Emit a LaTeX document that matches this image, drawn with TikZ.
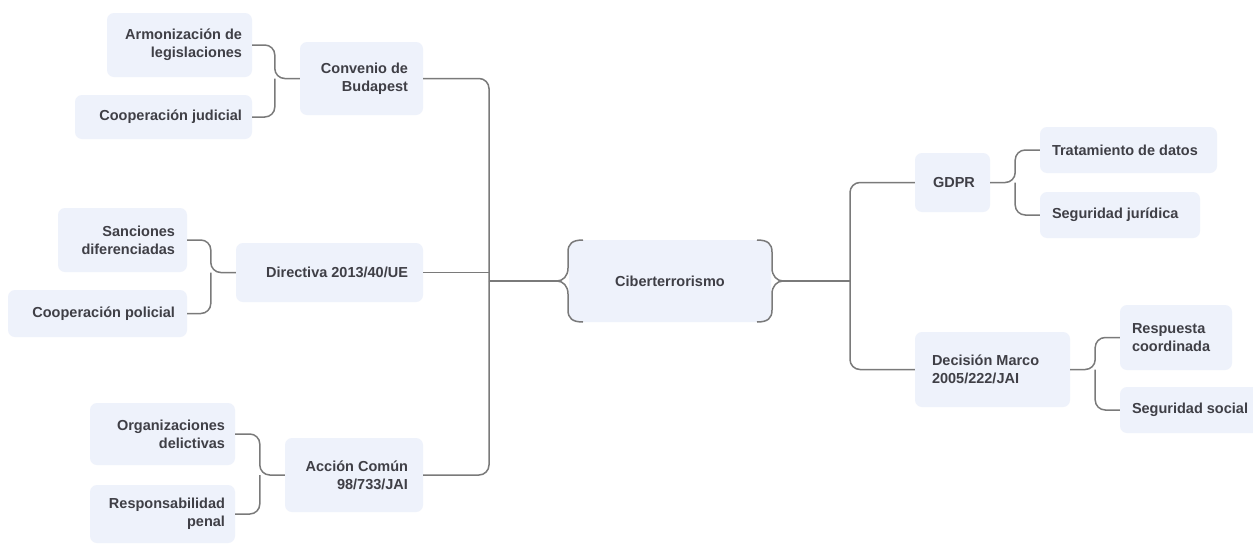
\documentclass[tikz,border=0pt]{standalone}
\usepackage{fontspec}
\setmainfont{Liberation Sans}
\definecolor{boxfill}{HTML}{EEF2FB}
\definecolor{linec}{HTML}{7A7A7A}
\definecolor{txt}{HTML}{3F3F46}
\tikzset{
  box/.style={rectangle, rounded corners=7pt, fill=boxfill, draw=none, inner sep=0pt},
  lbl/.style={inner sep=0pt, text=txt, font=\bfseries\fontsize{14.5}{18}\selectfont},
  conn/.style={draw=linec, line width=1.5pt, rounded corners=10pt},
  brace/.style={draw=linec, line width=1.5pt},
}
\begin{document}
\begin{tikzpicture}[x=1pt, y=-1pt]
\fill[white] (0,0) rectangle (1253,544);
\useasboundingbox (0,0) rectangle (1253,544);

% ---- central topic ----
\node[box, minimum width=202pt, minimum height=82pt] (cib) at (670,281) {};
\node[lbl] (cibT) at (cib.center) {Ciberterrorismo};
\coordinate (cibL) at (557,281);
\coordinate (cibR) at (783,281);
\draw[brace] (583,240) .. controls (572,240) and (568,244) .. (568,252) -- (568,268)
  .. controls (568,276) and (563,281) .. (cibL)
  .. controls (563,281) and (568,286) .. (568,294) -- (568,310)
  .. controls (568,318) and (572,322) .. (583,322);
\draw[brace] (757,240) .. controls (768,240) and (772,244) .. (772,252) -- (772,268)
  .. controls (772,276) and (777,281) .. (cibR)
  .. controls (777,281) and (772,286) .. (772,294) -- (772,310)
  .. controls (772,318) and (768,322) .. (757,322);

% ---- left branch: main topics ----
\node[box, minimum width=123pt, minimum height=73pt] (conv) at (361.5,78.5) {};
\node[lbl, align=right, anchor=east] (convT) at ([xshift=-15pt]conv.east) {Convenio de\\Budapest};
\node[box, minimum width=187pt, minimum height=59pt] (dir) at (329.5,272.5) {};
\node[lbl, anchor=east] (dirT) at ([xshift=-15pt]dir.east) {Directiva 2013/40/UE};
\node[box, minimum width=138pt, minimum height=74pt] (acc) at (354,475) {};
\node[lbl, align=right, anchor=east] (accT) at ([xshift=-15pt]acc.east) {Acción Común\\98/733/JAI};

% ---- left branch: subtopics ----
\node[box, minimum width=145pt, minimum height=64pt] (arm) at (179.5,45) {};
\node[lbl, align=right, anchor=east] (armT) at ([xshift=-10pt]arm.east) {Armonización de\\legislaciones};
\node[box, minimum width=177pt, minimum height=44pt] (coopj) at (163.5,117) {};
\node[lbl, anchor=east] (coopjT) at ([xshift=-10pt]coopj.east) {Cooperación judicial};

\node[box, minimum width=129pt, minimum height=64pt] (sanc) at (122.5,240) {};
\node[lbl, align=right, anchor=east] (sancT) at ([xshift=-12pt]sanc.east) {Sanciones\\diferenciadas};
\node[box, minimum width=179pt, minimum height=47pt] (coopp) at (97.5,313.5) {};
\node[lbl, anchor=east] (coopT) at ([xshift=-12pt]coopp.east) {Cooperación policial};

\node[box, minimum width=145pt, minimum height=62pt] (org) at (162.5,434) {};
\node[lbl, align=right, anchor=east] (orgT) at ([xshift=-10pt]org.east) {Organizaciones\\delictivas};
\node[box, minimum width=145pt, minimum height=58pt] (resp) at (162.5,514) {};
\node[lbl, align=right, anchor=east] (respT) at ([xshift=-10pt]resp.east) {Responsabilidad\\penal};

% ---- right branch: main topics ----
\node[box, minimum width=75pt, minimum height=59pt] (gdpr) at (952.5,182.5) {};
\node[lbl, anchor=west] (gdprT) at ([xshift=18pt]gdpr.west) {GDPR};
\node[box, minimum width=155pt, minimum height=75pt] (dec) at (992.5,369.5) {};
\node[lbl, align=left, anchor=west] (decT) at ([xshift=17pt]dec.west) {Decisión Marco\\2005/222/JAI};

% ---- right branch: subtopics ----
\node[box, minimum width=177pt, minimum height=46pt] (trat) at (1128.5,150) {};
\node[lbl, anchor=west] (tratT) at ([xshift=12pt]trat.west) {Tratamiento de datos};
\node[box, minimum width=160pt, minimum height=46pt] (seg) at (1120,215) {};
\node[lbl, anchor=west] (segT) at ([xshift=12pt]seg.west) {Seguridad jurídica};
\node[box, minimum width=112pt, minimum height=65pt] (respc) at (1176,337.5) {};
\node[lbl, align=left, anchor=west] (respcT) at ([xshift=12pt]respc.west) {Respuesta\\coordinada};
\node[box, minimum width=140pt, minimum height=46pt] (segs) at (1190,410) {};
\node[lbl, anchor=west] (segsT) at ([xshift=12pt]segs.west) {Seguridad social};

% ---- junctions ----
\coordinate (jl) at (489,281);
\coordinate (jr) at (850,281);
\coordinate (bconv) at ([xshift=-25pt]conv.west);
\coordinate (bdir) at ([xshift=-25pt]dir.west);
\coordinate (bacc) at ([xshift=-25pt]acc.west);
\coordinate (bgdpr) at ([xshift=25pt]gdpr.east);
\coordinate (bdec) at ([xshift=25pt]dec.east);

% ---- connectors to the centre ----
\draw[conn] (conv.east) -| (jl);
\draw[conn] (acc.east) -| (jl);
\draw[conn] (dir.east) -- (dir.east -| jl);
\draw[conn] (jl) -- (cibL);
\draw[conn] (cibR) -- (jr);
\draw[conn] (jr) |- (gdpr.west);
\draw[conn] (jr) |- (dec.west);

% ---- brackets to subtopics ----
\draw[conn] (arm.east) -| (bconv) -- (conv.west);
\draw[conn] (coopj.east) -| (bconv);
\draw[conn] (sanc.east) -| (bdir) -- (dir.west);
\draw[conn] (coopp.east) -| (bdir);
\draw[conn] (org.east) -| (bacc) -- (acc.west);
\draw[conn] (resp.east) -| (bacc);
\draw[conn] (gdpr.east) -- (bgdpr) |- (trat.west);
\draw[conn] (bgdpr) |- (seg.west);
\draw[conn] (dec.east) -- (bdec) |- (respc.west);
\draw[conn] (bdec) |- (segs.west);
\end{tikzpicture}
\end{document}
